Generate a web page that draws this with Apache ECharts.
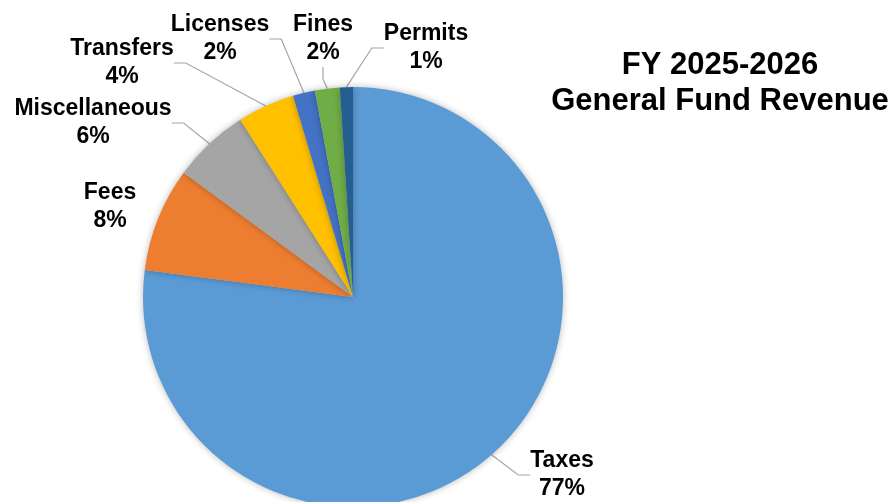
<!DOCTYPE html>
<html>
<head>
<meta charset="utf-8">
<script src="https://cdn.jsdelivr.net/npm/echarts@6/dist/echarts.min.js"></script>
<style>
html,body{margin:0;padding:0;background:#fff;}
#chart{width:891px;height:502px;}
</style>
</head>
<body>
<div id="chart"></div>
<script>
// Data
var categories = ['Taxes', 'Fees', 'Miscellaneous', 'Transfers', 'Licenses', 'Fines', 'Permits'];
var values = [76.9, 8.0, 5.9, 4.4, 1.7, 1.9, 1.0];
var titleLines = ['FY 2025-2026', 'General Fund Revenue'];

// Styling / layout (kept separate from data)
var colors = ['#5B9BD5', '#ED7D31', '#A5A5A5', '#FFC000', '#4472C4', '#70AD47', '#255E91'];
var labelCenters = [[562, 475], [110, 207], [93, 123], [122, 63], [220, 39], [323, 39], [426, 48]];
var showLeader = [true, false, true, true, true, true, true];

var chart = echarts.init(document.getElementById('chart'), null, {renderer: 'canvas'});

var seriesData = categories.map(function (name, i) {
  return {
    name: name,
    value: values[i],
    itemStyle: {color: colors[i]},
    labelLine: {show: showLeader[i]}
  };
});

chart.setOption({
  animation: false,
  backgroundColor: '#ffffff',
  title: {
    text: titleLines.join('\n'),
    left: 715,
    top: 42,
    textAlign: 'center',
    textStyle: {
      fontFamily: 'Liberation Sans, Arial, sans-serif',
      fontWeight: 'bold',
      fontSize: 31,
      lineHeight: 36,
      color: '#000000'
    }
  },
  series: [{
    type: 'pie',
    center: [353, 297],
    radius: 210,
    startAngle: 90,
    clockwise: true,
    percentPrecision: 0,
    avoidLabelOverlap: false,
    data: seriesData,
    itemStyle: {
      shadowBlur: 7,
      shadowColor: 'rgba(0,0,0,0.28)',
      shadowOffsetX: 0,
      shadowOffsetY: 0
    },
    label: {
      show: true,
      position: 'outside',
      formatter: '{b}\n{d}%',
      fontFamily: 'Liberation Sans, Arial, sans-serif',
      fontWeight: 'bold',
      fontSize: 23,
      lineHeight: 28,
      color: '#000000'
    },
    labelLine: {
      show: true,
      length: 15,
      length2: 12,
      lineStyle: {color: '#A6A6A6', width: 1.2}
    },
    labelLayout: function (params) {
      var p = labelCenters[params.dataIndex];
      return {x: p[0], y: p[1], align: 'center', verticalAlign: 'middle'};
    },
    emphasis: {disabled: true}
  }]
});
</script>
</body>
</html>
